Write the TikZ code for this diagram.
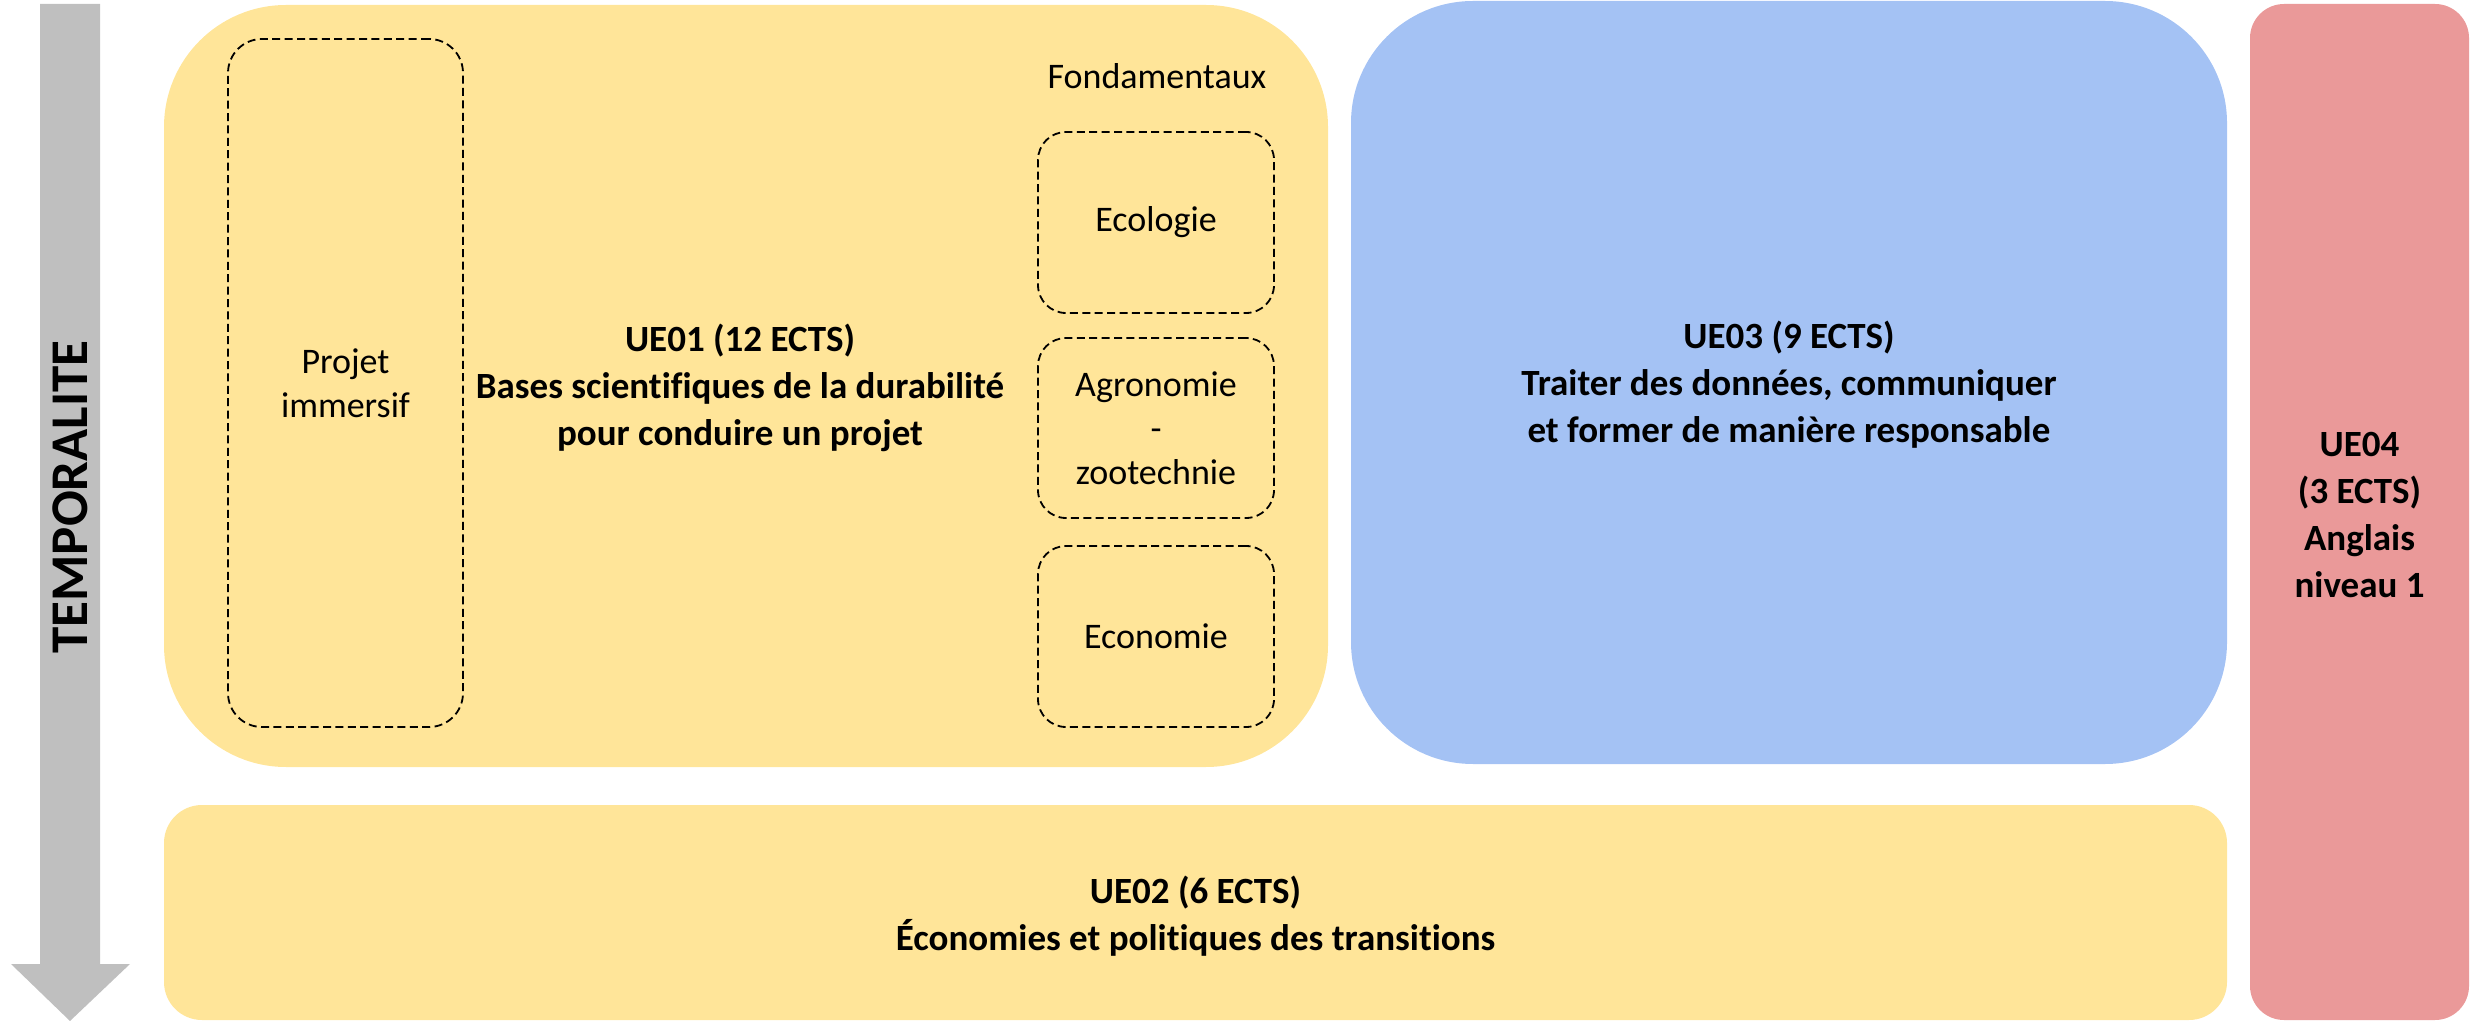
\documentclass[tikz,border=0pt]{standalone}
\usepackage{fontspec}
\setmainfont[Ligatures={NoCommon}]{Carlito}
\definecolor{ueyellow}{HTML}{FFE599}
\definecolor{ueblue}{HTML}{A4C2F4}
\definecolor{uered}{HTML}{EA9999}
\definecolor{arrowgray}{HTML}{BFBFBF}
\begin{document}
\begin{tikzpicture}[x=0.5pt,y=-0.5pt,
  ue/.style={draw=none,rectangle,inner sep=0pt},
  sub/.style={draw=black,dashed,dash pattern=on 4pt off 2.2pt,line width=0.9pt,rectangle,inner sep=0pt,
    minimum width=118pt,minimum height=90.5pt,rounded corners=14pt,align=center,
    font=\fontsize{18}{22}\selectfont},
  lbl/.style={align=center,inner sep=0pt,font=\fontsize{18.5}{23.5}\selectfont\bfseries}
]
\useasboundingbox (0,0) rectangle (2474,1021);
% time arrow
\fill[arrowgray] (40,4) -- (100,4) -- (100,964) -- (130,964) -- (70,1021) -- (11,964) -- (40,964) -- cycle;
\node[rotate=90,inner sep=0pt,font=\fontsize{26.5}{30}\selectfont\bfseries] (temp) at (70,497) {TEMPORALITE};
% boxes
\node[ue,fill=ueyellow,minimum width=582pt,minimum height=381pt,rounded corners=61pt] (ue01) at (746,386) {};
\node[ue,fill=ueblue,minimum width=438pt,minimum height=381.5pt,rounded corners=61pt] (ue03) at (1789,382.5) {};
\node[ue,fill=uered,minimum width=109.5pt,minimum height=508pt,rounded corners=17pt] (ue04) at (2359.5,512) {};
\node[ue,fill=ueyellow,minimum width=1031.5pt,minimum height=107.5pt,rounded corners=19pt] (ue02) at (1195.5,912.5) {};
% sub-boxes
\node[sub,minimum width=117.5pt,minimum height=344pt,rounded corners=17pt] (projet) at (345.5,383) {Projet\\immersif};
\node[font=\fontsize{18}{22}\selectfont,inner sep=0pt] (fond) at (1157,76) {Fondamentaux};
\node[sub] (ecol) at (1156,222.5) {Ecologie};
\node[sub,minimum height=90pt] (agro) at (1156,428) {Agronomie\\-\\zootechnie};
\node[sub] (econ) at (1156,636.5) {Economie};
% labels
\node[lbl] (t01) at (740,388) {UE01 (12 ECTS)\\Bases scientifiques de la durabilité\\pour conduire un projet};
\node[lbl] (t03) at (1789,385) {UE03 (9 ECTS)\\Traiter des données, communiquer\\et former de manière responsable};
\node[lbl] (t04) at (2359.5,515) {UE04\\(3 ECTS)\\Anglais\\niveau 1};
\node[lbl] (t02) at (1195.5,916) {UE02 (6 ECTS)\\Économies et politiques des transitions};
\end{tikzpicture}
\end{document}
